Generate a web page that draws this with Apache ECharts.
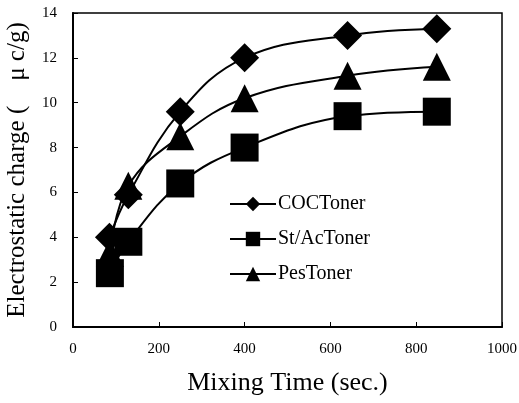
<!DOCTYPE html>
<html>
<head>
<meta charset="utf-8">
<script src="https://cdn.jsdelivr.net/npm/echarts@6/dist/echarts.min.js"></script>
<style>html,body{margin:0;padding:0;background:#fff}#c{width:519px;height:403px}</style>
</head>
<body>
<div id="c"></div>
<script>
var seriesNames = ['COCToner', 'St/AcToner', 'PesToner'];
var cocX = [85, 129, 250, 400, 640, 848];
var cocY = [4.0, 5.9, 9.6, 12.0, 13.0, 13.3];
var stacX = [86, 129, 250, 400, 640, 848];
var stacY = [2.4, 3.8, 6.4, 8.0, 9.4, 9.6];
var pesX = [86, 129, 250, 400, 640, 848];
var pesY = [3.3, 6.3, 8.5, 10.2, 11.2, 11.6];
var xTicks = [0, 200, 400, 600, 800, 1000];
var yTicks = [0, 2, 4, 6, 8, 10, 12, 14];

function pairs(xs, ys) { return xs.map(function (x, i) { return [x, ys[i]]; }); }

var font = '"Liberation Serif", "DejaVu Serif", serif';
var chart = echarts.init(document.getElementById('c'));
var base = {
  type: 'line', smooth: 0.4,
  lineStyle: { color: '#000', width: 2 },
  itemStyle: { color: '#000' },
  z: 3
};
chart.setOption({
  animation: false,
  backgroundColor: '#fff',
  textStyle: { fontFamily: font, color: '#000' },
  grid: { left: 73, right: 17, top: 13, bottom: 76, show: true, borderColor: '#000', borderWidth: 1.5, outerBoundsMode: 'none', containLabel: false },
  legend: {
    orient: 'vertical', left: 224, top: 189, itemGap: 15,
    itemWidth: 46, itemHeight: 18,
    textStyle: { fontFamily: font, fontSize: 20, color: '#000', padding: [0, 0, 0, -3] },
    data: seriesNames
  },
  xAxis: {
    type: 'value', min: xTicks[0], max: xTicks[xTicks.length - 1], interval: 200,
    name: 'Mixing Time (sec.)', nameLocation: 'middle', nameGap: 43,
    nameTextStyle: { fontFamily: font, fontSize: 26, color: '#000' },
    axisLine: { lineStyle: { color: '#000', width: 2 } },
    axisTick: { inside: true, length: 5, lineStyle: { color: '#000' } },
    axisLabel: { fontFamily: font, fontSize: 15, color: '#000', margin: 15, formatter: function (v) { return String(v); } },
    splitLine: { show: false }
  },
  yAxis: {
    type: 'value', min: yTicks[0], max: yTicks[yTicks.length - 1], interval: 2,
    name: 'Electrostatic charge (\u3000\u03bc c/g)', nameLocation: 'middle', nameGap: 43,
    nameTextStyle: { fontFamily: font, fontSize: 25, color: '#000' },
    axisLine: { lineStyle: { color: '#000', width: 2 } },
    axisTick: { inside: true, length: 5, lineStyle: { color: '#000' } },
    axisLabel: { fontFamily: font, fontSize: 15, color: '#000', margin: 16, formatter: function (v) { return String(v); } },
    splitLine: { show: false }
  },
  series: [
    Object.assign({}, base, { name: seriesNames[0], symbol: 'diamond', symbolSize: 29, data: pairs(cocX, cocY) }),
    Object.assign({}, base, { name: seriesNames[1], symbol: 'rect', symbolSize: 28, data: pairs(stacX, stacY) }),
    Object.assign({}, base, { name: seriesNames[2], symbol: 'triangle', symbolSize: 28, data: pairs(pesX, pesY) })
  ]
});
</script>
</body>
</html>
